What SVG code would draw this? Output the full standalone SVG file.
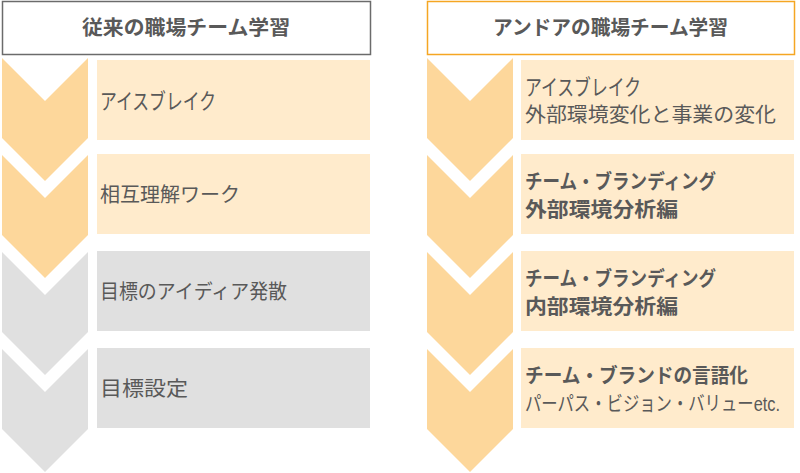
<svg xmlns="http://www.w3.org/2000/svg" width="800" height="473" viewBox="0 0 800 473">
<style>
text{font-family:"Liberation Sans","Noto Sans CJK JP",sans-serif;fill:#595959;font-size:20px}
.h{font-weight:bold;font-size:20px}
.b{font-weight:bold}
.k{font-size:22px}
.co{fill:#FDD79B}
.cg{fill:#E0E0E0}
.bo{fill:#FFEBCC}
.bg{fill:#E0E0E0}
</style>
<defs>
<path id="chev" d="M0,0 L43,43 L86,0 L86,80 L43,123 L0,80 Z"/>
</defs>
<rect width="800" height="473" fill="#fff"/>
<g id="hdr-left"><rect x="2.5" y="1.5" width="368" height="53" fill="#fff" stroke="#6b6b6b" stroke-width="1.5"/><text class="h" x="82" y="35" textLength="208" lengthAdjust="spacingAndGlyphs">従来の職場チーム学習</text></g>
<g id="hdr-right"><rect x="427.5" y="1.5" width="367" height="53" fill="#fff" stroke="#F5A623" stroke-width="1.5"/><text class="h" x="493" y="35" textLength="235" lengthAdjust="spacingAndGlyphs">アンドアの職場チーム学習</text></g>
<g id="L1"><use href="#chev" class="co" x="2" y="58"/><rect class="bo" x="97" y="60" width="273" height="80"/><text class="k" x="100" y="109" textLength="116" lengthAdjust="spacingAndGlyphs">アイスブレイク</text></g>
<g id="L2"><use href="#chev" class="co" x="2" y="155"/><rect class="bo" x="97" y="154" width="273" height="80"/><text x="100" y="202" textLength="140" lengthAdjust="spacingAndGlyphs">相互理解ワーク</text></g>
<g id="L3"><use href="#chev" class="cg" x="2" y="252"/><rect class="bg" x="97" y="251" width="273" height="80"/><text x="100" y="299" textLength="187" lengthAdjust="spacingAndGlyphs">目標のアイディア発散</text></g>
<g id="L4"><use href="#chev" class="cg" x="2" y="349"/><rect class="bg" x="97" y="348" width="273" height="80"/><text x="100" y="396" textLength="88" lengthAdjust="spacingAndGlyphs">目標設定</text></g>
<g id="R1"><use href="#chev" class="co" x="427" y="58"/><rect class="bo" x="521" y="60" width="273" height="80"/><text class="k" x="525" y="95" textLength="116" lengthAdjust="spacingAndGlyphs">アイスブレイク</text><text x="525" y="122" textLength="251" lengthAdjust="spacingAndGlyphs">外部環境変化と事業の変化</text></g>
<g id="R2"><use href="#chev" class="co" x="427" y="155"/><rect class="bo" x="521" y="154" width="273" height="80"/><text class="b" x="525" y="189" textLength="191" lengthAdjust="spacingAndGlyphs">チーム・ブランディング</text><text class="b" x="525" y="217" textLength="153" lengthAdjust="spacingAndGlyphs">外部環境分析編</text></g>
<g id="R3"><use href="#chev" class="co" x="427" y="252"/><rect class="bo" x="521" y="251" width="273" height="80"/><text class="b" x="525" y="286" textLength="191" lengthAdjust="spacingAndGlyphs">チーム・ブランディング</text><text class="b" x="525" y="314" textLength="153" lengthAdjust="spacingAndGlyphs">内部環境分析編</text></g>
<g id="R4"><use href="#chev" class="co" x="427" y="349"/><rect class="bo" x="521" y="348" width="273" height="80"/><text class="b" x="525" y="383" textLength="223" lengthAdjust="spacingAndGlyphs">チーム・ブランドの言語化</text><text x="525" y="411" font-size="18" textLength="255" lengthAdjust="spacingAndGlyphs">パーパス・ビジョン・バリューetc.</text></g>
<g id="connectors"/>
</svg>
